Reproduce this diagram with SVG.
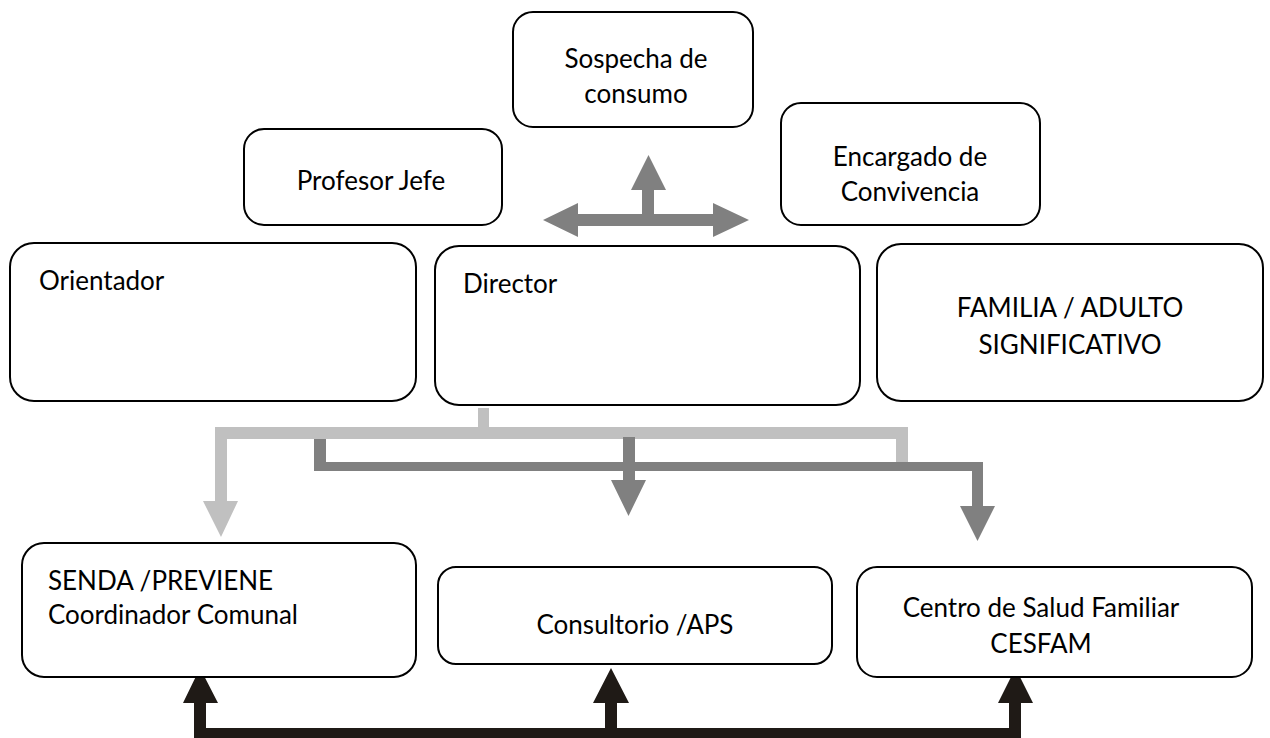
<svg xmlns="http://www.w3.org/2000/svg" width="1270" height="738" viewBox="0 0 1270 738">
<style>
.box{fill:#fff;stroke:#000;stroke-width:2}
.t{font-family:Lato,"Liberation Sans",sans-serif;font-size:26px;fill:#000}
.c{text-anchor:middle}
.g1{fill:#808080}
.g2{fill:#c0c0c0}
.bk{fill:#1f1a16}
</style>
<rect width="1270" height="738" fill="#fff"/>
<g id="connectors">
<polygon class="g1" points="543,220 578,203 578,214 642,214 642,190 631,190 648.5,155 666,190 654,190 654,214 713,214 713,203 749,220 713,237 713,226 578,226 578,237"/>
<polygon class="g2" points="478,408 489,408 489,427 908,427 908,462 896,462 896,439 227,439 227,501 238,501 221,537 203,501 215,501 215,427 478,427"/>
<polygon class="g1" points="314,439 326,439 326,462 623,462 623,437 635,437 635,462 983,462 983,506 995,506 977.5,541 960,506 972,506 972,471 635,471 635,480 646,480 628.5,516 611,480 623,480 623,471 314,471"/>
<polygon class="bk" points="194,740 194,703 183,703 200,668 218,703 206,703 206,728 605,728 605,703 593,703 611,668 629,703 617,703 617,728 1009,728 1009,703 998,703 1015.5,668 1033,703 1021,703 1021,740"/>
</g>
<g id="sospecha"><rect class="box" x="513" y="12" width="240" height="115" rx="20"/><text class="t c" x="636" y="68">Sospecha de</text><text class="t c" x="636" y="103">consumo</text></g>
<g id="profesor"><rect class="box" x="244" y="129" width="258" height="96" rx="20"/><text class="t c" x="371" y="190">Profesor Jefe</text></g>
<g id="encargado"><rect class="box" x="781" y="103" width="259" height="122" rx="20"/><text class="t c" x="910" y="166">Encargado de</text><text class="t c" x="910" y="201">Convivencia</text></g>
<g id="orientador"><rect class="box" x="10" y="243" width="406" height="158" rx="24"/><text class="t" x="39" y="290">Orientador</text></g>
<g id="director"><rect class="box" x="435" y="246" width="425" height="159" rx="24"/><text class="t" x="463" y="293">Director</text></g>
<g id="familia"><rect class="box" x="877" y="244" width="386" height="157" rx="24"/><text class="t c" x="1070" y="317">FAMILIA / ADULTO</text><text class="t c" x="1070" y="354">SIGNIFICATIVO</text></g>
<g id="senda"><rect class="box" x="22" y="543" width="394" height="134" rx="22"/><text class="t" x="48" y="590">SENDA /PREVIENE</text><text class="t" x="48" y="624" font-size="24">Coordinador Comunal</text></g>
<g id="consultorio"><rect class="box" x="438" y="567" width="394" height="97" rx="18"/><text class="t c" x="635" y="634">Consultorio /APS</text></g>
<g id="cesfam"><rect class="box" x="857" y="567" width="395" height="110" rx="20"/><text class="t c" x="1041" y="617">Centro de Salud Familiar</text><text class="t c" x="1041" y="653">CESFAM</text></g>
</svg>
